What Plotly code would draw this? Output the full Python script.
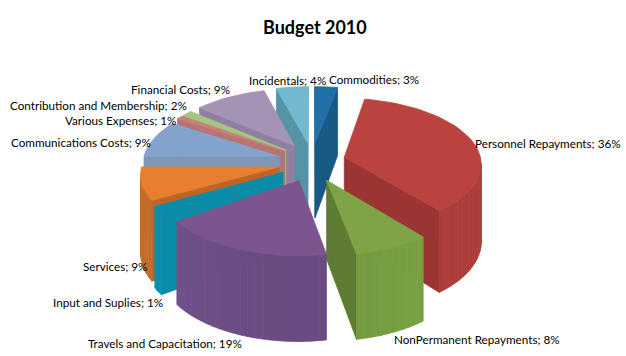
import math
import plotly.graph_objects as go

title = "Budget 2010"
names = ["Commodities", "Personnel Repayments", "NonPermanent Repayments", "Travels and Capacitation",
         "Input and Suplies", "Services", "Communications Costs", "Various Expenses",
         "Contribution and Membership", "Financial Costs", "Incidentals"]
shown_pct = [3, 36, 8, 19, 1, 9, 9, 1, 2, 9, 4]
values = [3.0, 36.0, 8.0, 18.4, 1.6, 8.0, 9.0, 0.8, 1.4, 9.6, 4.2]

top_cols = ["#1F70A8", "#BA4340", "#7FA446", "#7C548E", "#0A8CA8", "#E87E30", "#84A3CC", "#CB7F7D", "#A8C484", "#A593B6", "#72B8CF"]
out_cols = ["#1B5F8E", "#A83C3A", "#76A041", "#6D4E86", "#0A8CA8", "#BE6B2A", "#7E96B8", "#B87372", "#98B278", "#8E7FA0", "#5E9FB2"]
rad_cols = ["#195A85", "#9A3533", "#5E7D33", "#6A4B80", "#0A8CA8", "#BB6526", "#7E96B8", "#B87372", "#98B278", "#8F80A0", "#5594A6"]

label_pos = [(329, 79), (475, 143), (394, 339), (88, 343), (53, 302), (83, 266),
             (11, 142), (65, 120), (10, 105), (131, 89), (249, 80)]

CX, CY = 312, 162
RX, RY = 137, 65.7
EX, EY = 0.245, 0.30
P = 0.09
H = 77


def project(u, v, z=0.0):
    s = 1 + P * v
    return CX + RX * u * s, CY + RY * v * s + z * H * s


def shade(c, f):
    r, g, b = int(c[1:3], 16), int(c[3:5], 16), int(c[5:7], 16)
    return "#%02x%02x%02x" % tuple(max(0, min(255, int(x * f))) for x in (r, g, b))


fig = go.Figure()


def face(pts, col):
    xs = [p[0] for p in pts] + [pts[0][0]]
    ys = [p[1] for p in pts] + [pts[0][1]]
    fig.add_trace(go.Scatter(x=xs, y=ys, mode="lines", fill="toself", fillcolor=col,
                             line=dict(color=col, width=0.8), hoverinfo="skip", showlegend=False))


total = sum(values)
slices = []
cum = 0.0
for i, val in enumerate(values):
    a0 = cum / total * 2 * math.pi
    cum += val
    a1 = cum / total * 2 * math.pi
    slices.append((i, a0, a1))


def mid_fwd(s):
    return -math.cos((s[1] + s[2]) / 2)


for i, a0, a1 in sorted(slices, key=mid_fwd):
    mid = (a0 + a1) / 2
    ox, oy = EX * math.sin(mid), -EY * math.cos(mid)
    n = max(3, int((a1 - a0) / math.radians(3)))
    ring = [(ox + math.sin(a0 + (a1 - a0) * k / n), oy - math.cos(a0 + (a1 - a0) * k / n)) for k in range(n + 1)]
    apex = (ox, oy)

    for A, B in ((apex, ring[0]), (ring[-1], apex)):
        if project(*B)[0] < project(*A)[0]:
            face([project(*A), project(*B), project(*B, 1), project(*A, 1)], rad_cols[i])
    for k in range(n):
        A, B = ring[k], ring[k + 1]
        if project(*B)[0] < project(*A)[0]:
            ang = a0 + (a1 - a0) * (k + 0.5) / n
            f = 1.0 + 0.03 * math.cos(ang * 3)
            face([project(*A), project(*B), project(*B, 1), project(*A, 1)], shade(out_cols[i], f))
    face([project(*apex)] + [project(*p) for p in ring], top_cols[i])

FONT = "Lato, Carlito, Calibri, sans-serif"
ann = [dict(x=315, y=27, xref="x", yref="y", text="<b>%s</b>" % title, showarrow=False,
            xanchor="center", yanchor="middle", font=dict(family=FONT, size=18, color="#000000"))]
for nm, pct, (lx, ly) in zip(names, shown_pct, label_pos):
    ann.append(dict(x=lx, y=ly, xref="x", yref="y", text="%s; %d%%" % (nm, pct), showarrow=False,
                    xanchor="left", yanchor="middle", xshift=-2, font=dict(family=FONT, size=11.7, color="#000000")))

fig.update_layout(
    width=626, height=356, margin=dict(l=0, r=0, t=0, b=0),
    paper_bgcolor="white", plot_bgcolor="white", showlegend=False, annotations=ann,
    xaxis=dict(range=[0, 626], visible=False, fixedrange=True),
    yaxis=dict(range=[356, 0], visible=False, fixedrange=True),
)
fig.write_html("out.html", config={"displayModeBar": False},
               post_script="document.body.style.margin='0';document.body.style.overflow='hidden';")
